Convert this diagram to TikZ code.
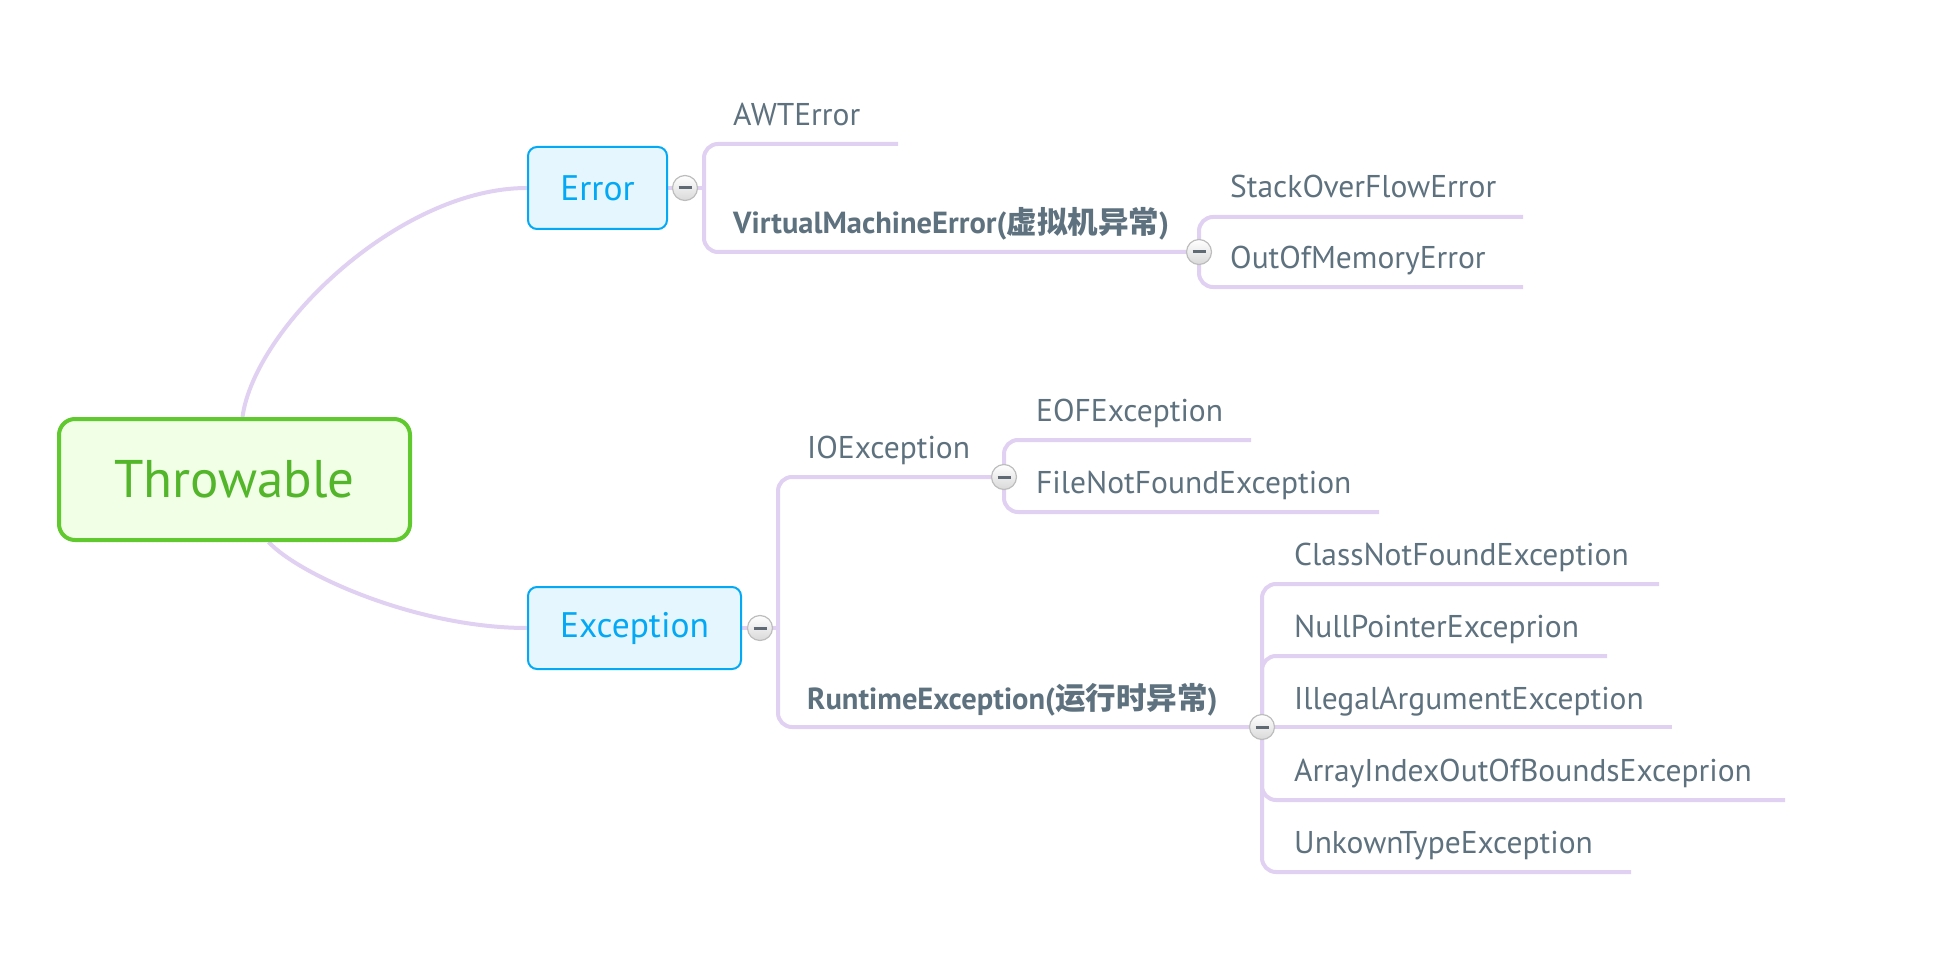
\documentclass[tikz,border=0pt]{standalone}
\usepackage{fontspec}
\setmainfont{PT Sans}
\newfontfamily\cjk{Noto Sans CJK SC}
\usetikzlibrary{positioning,backgrounds}
\definecolor{branchline}{HTML}{E0D0F2}
\definecolor{leaftext}{HTML}{5E717E}
\definecolor{rootedge}{HTML}{5FC92E}
\definecolor{rootfill}{HTML}{F0FFE6}
\definecolor{roottext}{HTML}{52B52A}
\definecolor{mainedge}{HTML}{03A9F4}
\definecolor{mainfill}{HTML}{E6F6FF}
\definecolor{toggleedge}{HTML}{BDBDBD}
\definecolor{togglelow}{HTML}{D9D9D9}
\definecolor{togglebar}{HTML}{5F6A74}
\newcommand{\zhbold}[1]{{\cjk\bfseries #1}}

\tikzset{
  branch/.style={draw=branchline, line width=4pt, rounded corners=14pt},
  leaf/.style={anchor=base west, inner sep=0pt, text=leaftext, font=\fontsize{31.5}{36}\selectfont},
  boldleaf/.style={leaf, font=\fontsize{30.5}{36}\selectfont\bfseries},
  rootbox/.style={draw=rootedge, fill=rootfill, line width=4pt, rounded corners=16pt,
    text=roottext, font=\fontsize{53}{62}\selectfont, minimum width=351pt, minimum height=121pt},
  mainbox/.style={draw=mainedge, fill=mainfill, line width=2pt, rounded corners=9pt,
    text=mainedge, font=\fontsize{35.5}{40}\selectfont, minimum height=82pt, inner sep=0pt},
  toggle/.style={circle, draw=toggleedge, line width=1.2pt, top color=white, bottom color=togglelow,
    minimum size=25pt, inner sep=0pt,
    path picture={\draw[togglebar, line width=3pt]
      ([xshift=-6.5pt]path picture bounding box.center) -- ([xshift=6.5pt]path picture bounding box.center);}},
}

\begin{document}
\begin{tikzpicture}[x=1pt, y=-1pt]
  \useasboundingbox (0,0) rectangle (1936,960);

  % main nodes
  \node[rootbox] (throwable) at (234.5,479.5) {Throwable};
  \node[mainbox, minimum width=139pt] (error) at (597.5,188) {Error};
  \node[mainbox, minimum width=213pt] (exception) at (634.5,628) {Exception};

  % toggles
  \node[toggle] (errT) at (685,188) {};
  \node[toggle] (vmT) at (1199,252) {};
  \node[toggle] (excT) at (760,628) {};
  \node[toggle] (ioT) at (1004,477) {};
  \node[toggle] (rtT) at (1262,727) {};

  % Error side
  \node[leaf] (awt) at (733,126) {AWTError};
  \node[boldleaf] (vm) at (733,234) {VirtualMachineError(\zhbold{虚拟机异常})};
  \node[leaf] (sof) at (1230,198) {StackOverFlowError};
  \node[leaf] (oom) at (1230,269) {OutOfMemoryError};
  \coordinate (errBr) at (704,188);
  \coordinate (awtEnd) at (898,144);
  \coordinate (sofEnd) at (1523,217);
  \coordinate (oomEnd) at (1523,287);

  % Exception side
  \node[leaf] (io) at (807,458) {IOException};
  \node[boldleaf] (rt) at (807,709) {RuntimeException(\zhbold{运行时异常})};
  \node[leaf] (eof) at (1036,421) {EOFException};
  \node[leaf] (fnf) at (1036,493) {FileNotFoundException};
  \node[leaf] (cnf) at (1294,565) {ClassNotFoundException};
  \node[leaf] (npe) at (1294,637) {NullPointerExceprion};
  \node[leaf] (iae) at (1294,709) {IllegalArgumentException};
  \node[leaf] (aio) at (1294,781) {ArrayIndexOutOfBoundsExceprion};
  \node[leaf] (uk) at (1294,853) {UnkownTypeException};
  \coordinate (excBr) at (778,628);
  \coordinate (eofEnd) at (1251,440);
  \coordinate (fnfEnd) at (1379,512);
  \coordinate (cnfEnd) at (1659,584);
  \coordinate (npeEnd) at (1607,656);
  \coordinate (iaeEnd) at (1672,727);
  \coordinate (aioEnd) at (1785,800);
  \coordinate (ukEnd) at (1631,872);

  \begin{scope}[on background layer]
    % curves from root
    \draw[branch] ([xshift=8pt]throwable.north) .. controls +(12,-89) and +(-128,0) .. (error.west);
    \draw[branch] ([xshift=34pt]throwable.south) .. controls +(32,34) and +(-108,0) .. (exception.west);
    % Error brackets
    \draw[branch] (error.east) -- (errT) -- (errBr);
    \draw[branch] (awtEnd) -| (errBr) |- (vmT);
    \draw[branch] (sofEnd) -| (vmT) |- (oomEnd);
    % Exception brackets
    \draw[branch] (exception.east) -- (excT) -- (excBr);
    \draw[branch] (ioT) -| (excBr) |- (rtT);
    \draw[branch] (eofEnd) -| (ioT) |- (fnfEnd);
    \draw[branch] (cnfEnd) -| (rtT) |- (ukEnd);
    \draw[branch] (npeEnd) -| (rtT);
    \draw[branch] (aioEnd) -| (rtT);
    \draw[branch] (rtT) -- (iaeEnd);
  \end{scope}
\end{tikzpicture}
\end{document}
